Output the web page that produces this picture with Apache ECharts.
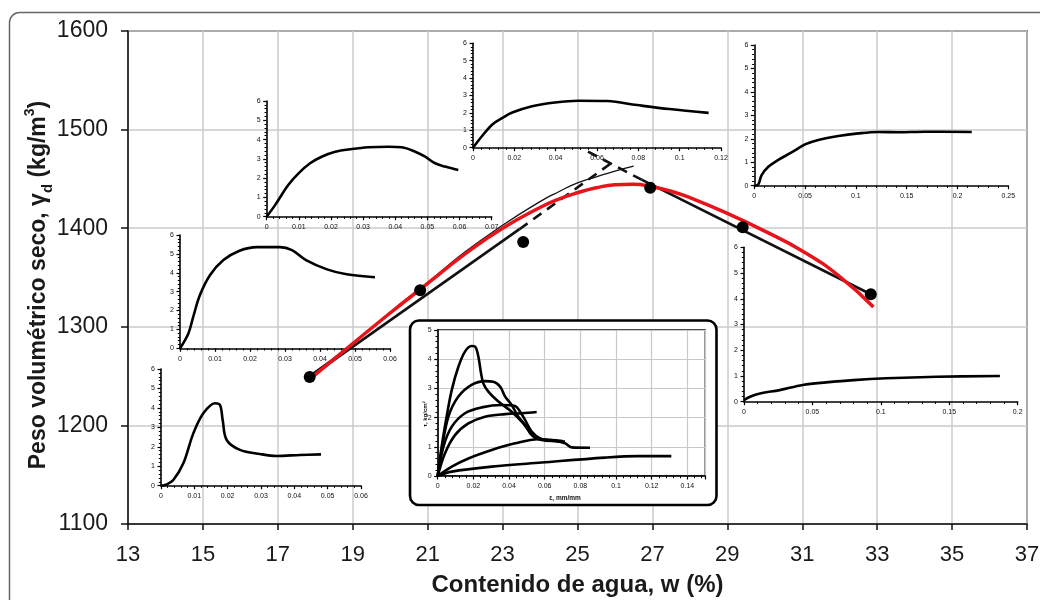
<!DOCTYPE html>
<html><head><meta charset="utf-8">
<script src="https://cdn.jsdelivr.net/npm/echarts@6/dist/echarts.min.js"></script>
<style>html,body{margin:0;padding:0;background:#fff}#c{width:1040px;height:600px}</style>
</head><body><div id="c"></div>
<script>
// ---------- main chart data ----------
const mainXTicks = [13,15,17,19,21,23,25,27,29,31,33,35,37];
const mainYTicks = [1100,1200,1300,1400,1500,1600];
const measuredPoints = [[17.85,1249],[20.8,1337],[23.55,1386],[26.94,1441],[29.41,1401],[32.83,1333]];
const dryLineSolid = [[17.85,1249],[23.45,1399]];
const dryLineDashed = [[23.45,1399],[25.92,1466.5]];
const wetLineDashed = [[25.28,1477.7],[26.71,1449.2]];
const wetLineSolid = [[26.71,1449.2],[32.83,1333]];
const thinCurve = [[17.9,1252],[19,1283],[20,1315],[21,1345],[22,1376],[23,1403],[24,1427],[24.5,1437],[25,1446],[25.5,1452],[26,1458],[26.5,1463]];
const redCurve = [[17.95,1250],[19,1283],[20,1314],[21,1344],[22,1374],[23,1400],[24,1421],[24.5,1429.5],[25,1436],[25.5,1441],[26,1444],[26.5,1444.5],[27,1442],[27.5,1437.5],[28,1431],[29,1415],[30,1397],[31,1377],[32,1351],[32.9,1320]];

// ---------- inset stress-strain curves ----------
const insetA = [[0,0],[0.0026,0.6],[0.0067,1.64],[0.0099,2.25],[0.0135,2.77],[0.0171,3.11],[0.0213,3.37],[0.0265,3.51],[0.0316,3.6],[0.0379,3.63],[0.042,3.6],[0.0462,3.37],[0.0493,3.11],[0.0524,2.77],[0.0555,2.6],[0.0596,2.42]];
const insetB = [[0,0],[0.0048,0.73],[0.0095,1.35],[0.0143,1.72],[0.019,2.02],[0.0286,2.38],[0.0397,2.6],[0.051,2.7],[0.065,2.68],[0.0794,2.45],[0.095,2.22],[0.114,2.0]];
const insetC = [[0,0],[0.0039,0.05],[0.0072,0.45],[0.0138,0.81],[0.0236,1.1],[0.0367,1.42],[0.0499,1.76],[0.063,1.95],[0.0827,2.12],[0.1024,2.23],[0.122,2.29],[0.1417,2.28],[0.168,2.3],[0.214,2.29]];
const insetD = [[0,0],[0.0024,0.79],[0.0038,1.68],[0.0057,2.82],[0.0086,3.88],[0.0124,4.67],[0.017,5.17],[0.022,5.36],[0.0286,5.36],[0.032,5.2],[0.036,4.67],[0.042,4.18],[0.0476,3.92],[0.0557,3.76]];
const insetE = [[0,0],[0.0017,0.07],[0.0037,0.29],[0.0067,1.15],[0.0097,2.69],[0.0127,3.72],[0.0162,4.24],[0.0177,4.15],[0.0185,3.38],[0.0197,2.35],[0.0237,1.84],[0.0297,1.63],[0.0347,1.53],[0.0417,1.58],[0.048,1.61]];
const insetF = [[0,0.06],[0.0044,0.19],[0.0117,0.32],[0.026,0.45],[0.043,0.65],[0.06,0.75],[0.08,0.84],[0.104,0.91],[0.141,0.97],[0.187,1.0]];
const insetG1 = [[0,0],[0.0022,1.0],[0.005,2.03],[0.0079,2.95],[0.0116,3.74],[0.0153,4.26],[0.019,4.45],[0.021,4.43],[0.0228,4.09],[0.0243,3.52],[0.0256,3.17],[0.0284,2.89],[0.034,2.55],[0.0415,2.2],[0.0471,1.86],[0.0527,1.46],[0.0583,1.26],[0.0658,1.21],[0.0714,1.12],[0.0751,0.98],[0.0854,0.97]];
const insetG2 = [[0,0],[0.0022,0.89],[0.006,2.03],[0.0116,2.72],[0.019,3.12],[0.0265,3.25],[0.0312,3.23],[0.035,3.06],[0.0378,2.72],[0.0415,2.43],[0.0452,2.03],[0.049,1.75],[0.0527,1.4],[0.0583,1.23],[0.0714,1.18]];
const insetG3 = [[0,0],[0.0032,1.0],[0.0079,1.69],[0.0153,2.15],[0.0247,2.35],[0.0359,2.43],[0.0434,2.4],[0.0462,2.2],[0.049,1.92],[0.0527,1.52],[0.0574,1.29],[0.0639,1.23]];
const insetG4 = [[0,0],[0.0041,0.78],[0.0097,1.4],[0.0172,1.8],[0.0265,2.03],[0.0378,2.12],[0.0471,2.15],[0.0555,2.19]];
const insetG5 = [[0,0],[0.0079,0.32],[0.0172,0.6],[0.0303,0.89],[0.0434,1.12],[0.0564,1.26],[0.0639,1.23],[0.07,1.2]];
const insetG6 = [[0,0],[0.0079,0.15],[0.0303,0.32],[0.0583,0.46],[0.0938,0.63],[0.112,0.68],[0.131,0.68]];

// ---------- layout (positions only) ----------
const FONT = 'Liberation Sans, Arial, sans-serif';
const insets = [
  {grid:{left:266.7, top:101, width:225, height:115.7}, xmax:0.07, xint:0.01, ymax:6, curves:[insetA]},
  {grid:{left:473, top:43.3, width:248, height:104.4}, xmax:0.12, xint:0.02, ymax:6, curves:[insetB]},
  {grid:{left:754.3, top:45, width:254, height:140.7}, xmax:0.25, xint:0.05, ymax:6, curves:[insetC]},
  {grid:{left:180, top:235, width:210, height:113.3}, xmax:0.06, xint:0.01, ymax:6, curves:[insetD]},
  {grid:{left:161, top:369, width:200, height:116.7}, xmax:0.06, xint:0.01, ymax:6, curves:[insetE]},
  {grid:{left:744, top:247.3, width:273.7, height:154.4}, xmax:0.2, xint:0.05, ymax:6, curves:[insetF]},
  {grid:{left:437.7, top:330, width:267.5, height:146}, xmax:0.15, xint:0.02, ymax:5, boxed:true,
   curves:[insetG6, insetG5, insetG4, insetG3, insetG2, insetG1]}
];

const plain = v => String(v);
const grids = [{left:128, top:31, width:899, height:493, show:true, borderColor:'#111', borderWidth:1.5, outerBoundsMode:'none', containLabel:false}];
const xAxes = [{
  gridIndex:0, type:'value', min:mainXTicks[0], max:mainXTicks[mainXTicks.length-1], interval:mainXTicks[1]-mainXTicks[0],
  axisLine:{show:true, lineStyle:{color:'#111', width:1.5}},
  axisTick:{show:true, length:6, lineStyle:{color:'#111', width:1.5}},
  axisLabel:{color:'#1a1a1a', fontSize:22, fontFamily:FONT, margin:20, formatter:plain},
  splitLine:{show:true, lineStyle:{color:'#cbcbcb', width:1.5}},
  name:'Contenido de agua, w (%)', nameLocation:'middle', nameGap:49,
  nameTextStyle:{color:'#1a1a1a', fontSize:24, fontWeight:'bold', fontFamily:FONT}
}];
const yAxes = [{
  gridIndex:0, type:'value', min:mainYTicks[0], max:mainYTicks[mainYTicks.length-1], interval:mainYTicks[1]-mainYTicks[0],
  axisLine:{show:true, lineStyle:{color:'#111', width:1.5}},
  axisTick:{show:true, length:7, lineStyle:{color:'#111', width:1.5}},
  axisLabel:{color:'#1a1a1a', fontSize:23, fontFamily:FONT, margin:20, formatter:plain},
  splitLine:{show:true, lineStyle:{color:'#cbcbcb', width:1.5}}
}];

const series = [
  {type:'line', xAxisIndex:0, yAxisIndex:0, data:dryLineSolid, symbol:'none', lineStyle:{color:'#111', width:2.6}, z:3},
  {type:'line', xAxisIndex:0, yAxisIndex:0, data:dryLineDashed, symbol:'none', lineStyle:{color:'#111', width:2.6, type:[10,7]}, z:3},
  {type:'line', xAxisIndex:0, yAxisIndex:0, data:wetLineDashed, symbol:'none', lineStyle:{color:'#111', width:2.6, type:[10,7]}, z:3},
  {type:'line', xAxisIndex:0, yAxisIndex:0, data:wetLineSolid, symbol:'none', lineStyle:{color:'#111', width:2.6}, z:3},
  {type:'line', xAxisIndex:0, yAxisIndex:0, data:thinCurve, symbol:'none', smooth:0.5, smoothConstraint:false, lineStyle:{color:'#111', width:1.3}, z:3},
  {type:'line', xAxisIndex:0, yAxisIndex:0, data:redCurve, symbol:'none', smooth:0.5, smoothConstraint:false, lineStyle:{color:'#e8141c', width:3.5}, z:4},
  {type:'scatter', xAxisIndex:0, yAxisIndex:0, data:measuredPoints, symbol:'circle', symbolSize:12, itemStyle:{color:'#000', opacity:1}, z:5}
];

insets.forEach((ins, k) => {
  const gi = k + 1;
  const zb = ins.boxed ? 7 : 1;
  grids.push(Object.assign({outerBoundsMode:'none', containLabel:false, z:zb,
    show: !!ins.boxed, borderColor:'#111', borderWidth:1.3, backgroundColor:'transparent'}, ins.grid));
  const tickCommon = {show:true, length:3.5, inside:false, lineStyle:{color:'#000', width:1.2}};
  const minor = {show:true, splitNumber:5, length:2.2, lineStyle:{color:'#000', width:1}};
  xAxes.push({gridIndex:gi, type:'value', min:0, max:ins.xmax, interval:ins.xint, z:zb,
    axisLine:{show:true, onZero:false, lineStyle:{color:'#000', width:1.6}},
    axisTick:tickCommon, minorTick:minor,
    axisLabel:{color:'#111', fontSize:7, fontFamily:FONT, margin:7, showMaxLabel: !ins.boxed},
    splitLine:{show:!!ins.boxed, lineStyle:{color:'#c8c8c8', width:1.2}}});
  yAxes.push({gridIndex:gi, type:'value', min:0, max:ins.ymax, interval:1, z:zb,
    axisLine:{show:true, onZero:false, lineStyle:{color:'#000', width:1.6}},
    axisTick:tickCommon, minorTick:minor,
    axisLabel:{color:'#111', fontSize:7, fontFamily:FONT, margin:6},
    splitLine:{show:!!ins.boxed, lineStyle:{color:'#c8c8c8', width:1.2}}});
  ins.curves.forEach(c => {
    series.push({type:'line', xAxisIndex:gi, yAxisIndex:gi, data:c, symbol:'none', smooth:0.35,
      lineStyle:{color:'#000', width:2.6}, z: ins.boxed ? 8 : 2});
  });
});

const graphic = [
  {type:'rect', z:-10, shape:{x:9.5, y:12.5, width:1100, height:700, r:10}, style:{fill:'none', stroke:'#666', lineWidth:1.5}},
  {type:'rect', z:6, shape:{x:410, y:320.5, width:306.5, height:184.5, r:9}, style:{fill:'#fff', stroke:'#000', lineWidth:2.6}},
  {type:'text', z:10, x:39, y:285, rotation:Math.PI/2,
   style:{text:'{a|Peso volumétrico seco, γ}{s|d}{a| (kg/m}{p|3}{a|)}', align:'center', verticalAlign:'middle',
     rich:{a:{fontSize:23, fontWeight:'bold', fontFamily:FONT, fill:'#1a1a1a', lineHeight:32},
           s:{fontSize:15, fontWeight:'bold', fontFamily:FONT, fill:'#1a1a1a', lineHeight:16, verticalAlign:'bottom'},
           p:{fontSize:14, fontWeight:'bold', fontFamily:FONT, fill:'#1a1a1a', lineHeight:16, verticalAlign:'top'}}}},
  {type:'text', z:10, x:425.5, y:414, rotation:Math.PI/2,
   style:{text:'τ, kg/cm²', align:'center', verticalAlign:'middle', font:'bold 6px ' + FONT, fill:'#111'}},
  {type:'text', z:10, x:565, y:498, style:{text:'ε, mm/mm', align:'center', verticalAlign:'middle', font:'bold 6.5px ' + FONT, fill:'#111'}}
];

const chart = echarts.init(document.getElementById('c'), null, {renderer:'canvas'});
chart.setOption({animation:false, backgroundColor:'#fff', grid:grids, xAxis:xAxes, yAxis:yAxes, series:series, graphic:graphic});
</script></body></html>
